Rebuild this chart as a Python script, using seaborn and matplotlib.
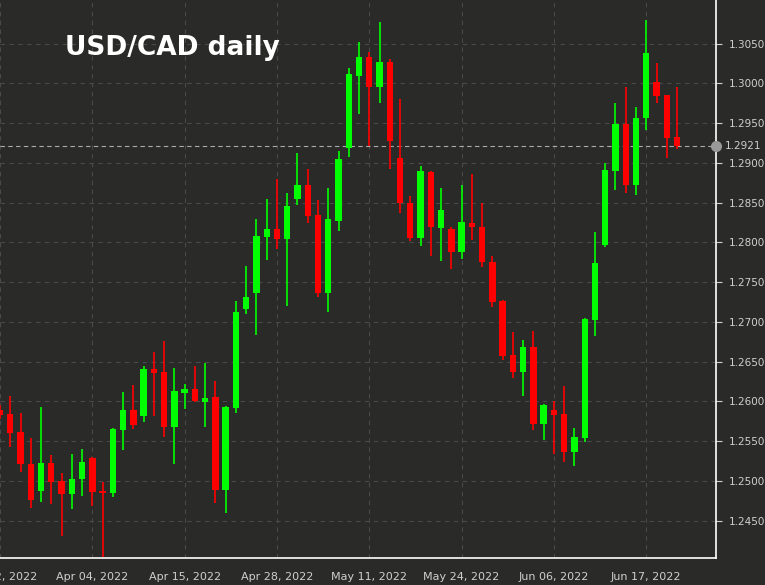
import numpy as np
import pandas as pd
import matplotlib
matplotlib.use("Agg")
import matplotlib.pyplot as plt
import seaborn as sns

opens = [1.2589,1.2584,1.2561,1.2521,1.2487,1.2523,1.2500,1.2483,1.2502,1.2529,
         1.2487,1.2485,1.2564,1.2589,1.2582,1.2641,1.2637,1.2568,1.2611,1.2615,
         1.2599,1.2605,1.2488,1.2592,1.2716,1.2737,1.2807,1.2817,1.2804,1.2855,
         1.2872,1.2834,1.2737,1.2827,1.2919,1.3010,1.3033,1.2995,1.3027,1.2906,
         1.2850,1.2805,1.2889,1.2818,1.2817,1.2788,1.2824,1.2820,1.2775,1.2726,
         1.2658,1.2637,1.2668,1.2572,1.2589,1.2584,1.2536,1.2554,1.2702,1.2797,
         1.2890,1.2949,1.2872,1.2956,1.3002,1.2985,1.2933]
highs = [1.2595,1.2607,1.2586,1.2554,1.2593,1.2532,1.2510,1.2534,1.2540,1.2530,
         1.2498,1.2566,1.2612,1.2621,1.2645,1.2662,1.2676,1.2642,1.2622,1.2644,
         1.2648,1.2626,1.2594,1.2726,1.2770,1.2830,1.2855,1.2880,1.2862,1.2913,
         1.2893,1.2853,1.2868,1.2915,1.3019,1.3052,1.3039,1.3077,1.3031,1.2981,
         1.2859,1.2896,1.2890,1.2868,1.2819,1.2872,1.2886,1.2849,1.2783,1.2727,
         1.2687,1.2677,1.2689,1.2597,1.2600,1.2619,1.2566,1.2705,1.2813,1.2900,
         1.2975,1.2996,1.2970,1.3080,1.3026,1.2986,1.2996]
lows = [1.2578,1.2543,1.2511,1.2466,1.2474,1.2471,1.2431,1.2465,1.2481,1.2468,
        1.2404,1.2480,1.2539,1.2565,1.2574,1.2582,1.2555,1.2521,1.2590,1.2599,
        1.2568,1.2472,1.2460,1.2586,1.2710,1.2683,1.2778,1.2792,1.2720,1.2847,
        1.2825,1.2731,1.2713,1.2814,1.2907,1.2961,1.2921,1.2976,1.2892,1.2837,
        1.2802,1.2795,1.2783,1.2777,1.2766,1.2779,1.2803,1.2769,1.2719,1.2652,
        1.2629,1.2607,1.2564,1.2551,1.2534,1.2524,1.2519,1.2549,1.2682,1.2794,
        1.2866,1.2862,1.2860,1.2941,1.2975,1.2906,1.2917]
closes = [1.2583,1.2560,1.2521,1.2476,1.2523,1.2499,1.2483,1.2503,1.2524,1.2486,
          1.2485,1.2565,1.2589,1.2570,1.2641,1.2636,1.2568,1.2613,1.2615,1.2600,
          1.2604,1.2488,1.2593,1.2712,1.2731,1.2808,1.2817,1.2804,1.2846,1.2872,
          1.2833,1.2737,1.2829,1.2905,1.3012,1.3033,1.2995,1.3027,1.2927,1.2849,
          1.2805,1.2890,1.2819,1.2841,1.2788,1.2826,1.2820,1.2775,1.2725,1.2657,
          1.2637,1.2668,1.2571,1.2596,1.2583,1.2536,1.2555,1.2704,1.2774,1.2891,
          1.2949,1.2872,1.2956,1.3038,1.2984,1.2932,1.2921]
n = min(len(opens), len(highs), len(lows), len(closes))
dates = pd.bdate_range("2022-03-22", periods=n)
tick_labels = ["Mar 22, 2022", "Apr 04, 2022", "Apr 15, 2022", "Apr 28, 2022", "May 11, 2022",
               "May 24, 2022", "Jun 06, 2022", "Jun 17, 2022"]
last_price = 1.2921

df = pd.DataFrame({"date": dates, "open": opens[:n], "high": highs[:n],
                   "low": lows[:n], "close": closes[:n]})
df["x"] = np.arange(n)
df["up"] = df["close"] >= df["open"]

sns.set_style("dark")
bg = "#2a2b29"
fig = plt.figure(figsize=(7.65, 5.85), dpi=100, facecolor=bg)
ax = fig.add_axes([0, 1 - 558/585, 716/765, 558/585])
ax.set_facecolor(bg)

green, red = "#00ff00", "#ff0000"
cols = np.where(df["up"], green, red)
ax.vlines(df["x"], df["low"], df["high"], colors=cols, linewidth=1.2, zorder=3)
bottom = np.minimum(df["open"], df["close"])
height = np.maximum(np.abs(df["close"] - df["open"]), 0.00008)
ax.bar(df["x"], height, bottom=bottom, width=0.62, color=cols, zorder=4, linewidth=0)

ax.set_xlim(0.0, 69.8)
ax.set_ylim(1.2403, 1.3105)

tick_dates = pd.to_datetime(tick_labels, format="%b %d, %Y")
tick_pos = [int(np.where(df["date"] == d)[0][0]) for d in tick_dates]
ax.set_xticks(tick_pos)
ax.set_xticklabels(tick_labels, color="#cfcfcf", fontsize=8)
yt = np.arange(1.2450, 1.3051, 0.005)
ax.set_yticks(yt)
ax.set_yticklabels([f"{v:.4f}" for v in yt], color="#cfcfcf", fontsize=7.5)
ax.yaxis.tick_right()
ax.tick_params(axis="both", colors="#cfcfcf", length=4, labelcolor="#cfcfcf")
ax.tick_params(axis="y", length=4, pad=5)
ax.tick_params(axis="x", pad=6)
ax.grid(True, color="#4a4a4a", linestyle=(0, (4, 4)), linewidth=0.8)
for s in ["top", "left"]:
    ax.spines[s].set_visible(False)
ax.spines["right"].set_color("white")
ax.spines["bottom"].set_color("white")
ax.spines["right"].set_linewidth(1.2)
ax.spines["bottom"].set_linewidth(1.2)

ax.axhline(last_price, color="#aaaaaa", linestyle=(0, (4, 3)), linewidth=0.8, zorder=2)
ax.plot([1.0], [last_price], "o", color="#999999", markersize=7, transform=ax.get_yaxis_transform(),
        clip_on=False, zorder=6)
ax.text(1.013, last_price, f"{last_price:.4f}", transform=ax.get_yaxis_transform(),
        color="#cfcfcf", fontsize=7.5, va="center", ha="left")
ax.text(65/716, 1 - 48/558, "USD/CAD daily", transform=ax.transAxes, color="white",
        fontsize=19, fontweight="bold", va="center", ha="left")

fig.savefig("out.png", dpi=100, facecolor=bg)
